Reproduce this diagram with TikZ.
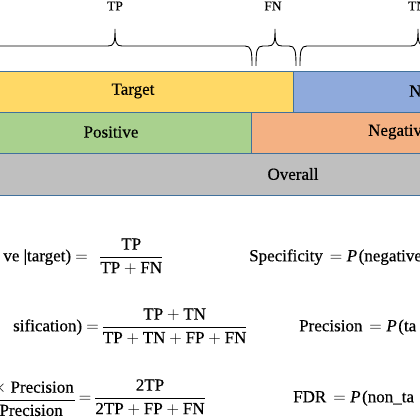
\documentclass[tikz,border=0pt]{standalone}
\usepackage{amsmath}
\usepackage{fontspec}
\setmainfont{Liberation Serif}[FakeBold=0.35]
\definecolor{yel}{HTML}{FFD966}
\definecolor{nblue}{HTML}{8FAADC}
\definecolor{grn}{HTML}{A9D18E}
\definecolor{org}{HTML}{F4B183}
\definecolor{gry}{HTML}{BFBFBF}
\definecolor{barline}{HTML}{41719C}
\newcommand\mybrace[3]{%
  \draw[bracestyle] (#1,354) .. controls (#1,370) and ({#1+1},374) .. ({#1+7},374)
    -- ({#2-7},374) .. controls ({#2-1},374) and (#2,377) .. (#2,391)
    .. controls (#2,377) and ({#2+1},374) .. ({#2+7},374)
    -- ({#3-7},374) .. controls ({#3-1},374) and (#3,370) .. (#3,354);}
\newcommand\eqP{\hspace{7pt}$=$\hspace{4.5pt}\textit{P}\hspace{1.5pt}}
\begin{document}
\begin{tikzpicture}[x=1pt,y=1pt,
  bar/.style={draw=barline,line width=0.9pt},
  bracestyle/.style={line width=0.9pt,draw=black},
  lbl/.style={font=\fontsize{17}{20}\selectfont,inner sep=0pt},
  toplbl/.style={font=\fontsize{13.5}{16}\selectfont,inner sep=0pt},
  eq/.style={font=\fontsize{17}{20}\selectfont,inner sep=0pt},
  fracbar/.style={line width=0.7pt}]
\useasboundingbox (0,0) rectangle (420,420);
\clip (0,0) rectangle (420,420);
\fill[white] (0,0) rectangle (420,420);
% braces
\mybrace{-60}{115}{252}
\mybrace{256}{275}{296}
\mybrace{300}{418}{540}
\node[toplbl] (tp) at (115,414) {TP};
\node[toplbl] (fn) at (273,414) {FN};
\node[toplbl,anchor=west] (tn) at (408,414) {TN};
% bars
\draw[bar,fill=yel] (-5,308) rectangle (293,349);
\draw[bar,fill=nblue] (293,308) rectangle (425,349);
\draw[bar,fill=grn] (-5,267) rectangle (251,308);
\draw[bar,fill=org] (251,267) rectangle (425,308);
\draw[bar,fill=gry] (-5,225) rectangle (425,267);
\node[lbl] (target) at (133,329) {Target};
\node[lbl,anchor=west] (nontarget) at (409,329) {N};
\node[lbl] (positive) at (111,288) {Positive};
\node[lbl,anchor=west] (negative) at (368,288) {Negativ};
\node[lbl] (overall) at (293,246) {Overall};
% row 1
\node[eq,anchor=mid east] (l1) at (88,161) {ve |target) $=$};
\node[eq,anchor=mid west] (f1) at (99,161) {$\dfrac{\text{TP}}{\text{TP}+\text{FN}}$};
\node[eq,anchor=mid west] (r1) at (249,161) {Specificity\eqP(negative};
% row 2
\node[eq,anchor=mid east] (l2) at (99,91) {sification) $=$};
\node[eq,anchor=mid west] (f2) at (101.5,91) {$\dfrac{\text{TP}+\text{TN}}{\text{TP}+\text{TN}+\text{FP}+\text{FN}}$};
\node[eq,anchor=mid west] (r2) at (299,91) {Precision\eqP(ta};
% row 3
\node[eq,anchor=base east] (n3) at (74,27.3) {$\times$ Precision};
\node[eq,anchor=base east] (d3) at (63,4.1) {Precision};
\draw[fracbar] (-5,20) -- (75,20);
\node[eq] (e3) at (85,20.5) {$=$};
\node[eq,anchor=mid west] (f3) at (94,20) {$\dfrac{\text{2TP}}{\text{2TP}+\text{FP}+\text{FN}}$};
\node[eq,anchor=mid west] (r3) at (293,20) {FDR\eqP(non\_ta};
\end{tikzpicture}
\end{document}
